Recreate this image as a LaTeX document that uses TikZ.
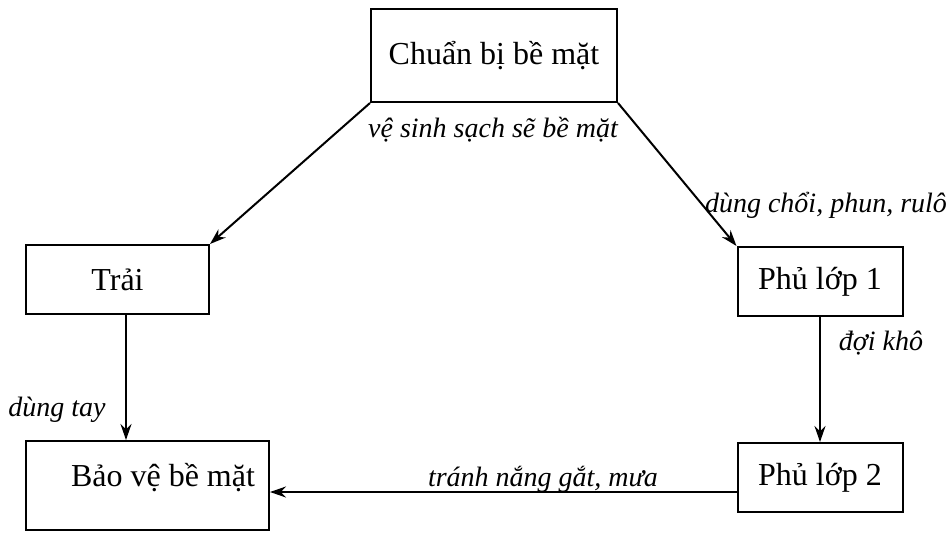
\documentclass[tikz,border=0pt]{standalone}
\usepackage{fontspec}
\setmainfont{Liberation Serif}
\usetikzlibrary{arrows.meta}
\tikzset{
  stepbox/.style={draw, line width=2pt, inner sep=0pt, font=\fontsize{32}{36}\selectfont},
  flow/.style={line width=2pt, -{Stealth[length=16pt,width=11pt]}},
  note/.style={font=\fontsize{28}{32}\selectfont\itshape, inner sep=0pt}
}
\begin{document}
\begin{tikzpicture}[x=1pt,y=-1pt]
\useasboundingbox (0,0) rectangle (948,533);

% process steps
\node[stepbox, minimum width=246pt, minimum height=93pt] (cb) at (494,55.5) {Chuẩn bị bề mặt};
\node[stepbox, minimum width=183pt, minimum height=69pt] (trai) at (117.5,279.5) {Trải};
\node[stepbox, minimum width=243pt, minimum height=89pt] (bv) at (147.5,485.5) {};
\node[font=\fontsize{32}{36}\selectfont, inner sep=0pt] (bvtext) at (163,478) {Bảo vệ bề mặt};
\node[stepbox, minimum width=165pt, minimum height=69pt] (p1) at (820,281.5) {Phủ lớp 1};
\node[stepbox, minimum width=165pt, minimum height=69pt] (p2) at (820,477.5) {Phủ lớp 2};

% connectors
\draw[flow] (cb.south west) -- (trai.north east);
\draw[flow] (cb.south east) -- (p1.north west);
\draw[flow] ([xshift=8.5pt]trai.south) -- ([xshift=8.5pt]trai.south |- bv.north);
\draw[flow] (p1) -- (p2);
\draw[flow] ([yshift=-14.5pt]p2.west) -- ([yshift=-14.5pt]p2.west -| bv.east);

% connector labels
\node[note] (l1) at (493,130) {vệ sinh sạch sẽ bề mặt};
\node[note] (l2) at (826,205) {dùng chổi, phun, rulô};
\node[note] (l3) at (57,410) {dùng tay};
\node[note] (l4) at (881,343) {đợi khô};
\node[note] (l5) at (543,479) {tránh nắng gắt, mưa};
\end{tikzpicture}
\end{document}
